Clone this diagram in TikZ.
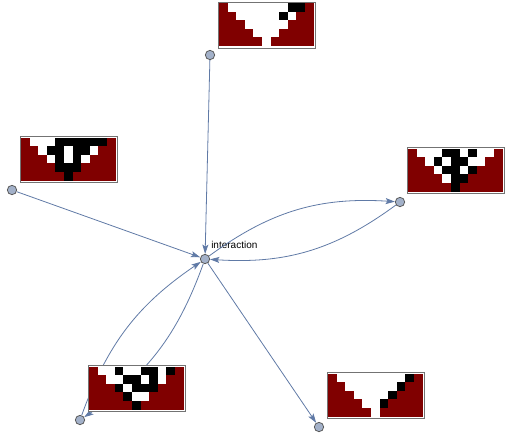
\documentclass[tikz,border=0pt]{standalone}
\usepackage{fontspec}
\setmainfont{Liberation Sans}
\usetikzlibrary{arrows.meta}

\definecolor{pix0}{RGB}{128,0,0}
\definecolor{pix1}{RGB}{255,255,255}
\definecolor{pix2}{RGB}{0,0,0}
\definecolor{edgeblue}{RGB}{96,122,166}
\definecolor{vtxfill}{RGB}{163,177,201}

% one framed rule picture: name, north west corner, rows of cells (0 red, 1 white, 2 black)
\newcommand{\rulepic}[3]{%
  \node[picframe, anchor=north west] (#1) at #2 {};
  \foreach \cells [count=\j from 0] in {#3} {
    \foreach \v [count=\i from 0] in \cells {
      \fill[pix\v] ([shift={(1.5+\i*8.59,1.5+\j*8.6)}]#1.north west) rectangle ++(8.7,8.7);
    }
  }
}

\begin{document}
\begin{tikzpicture}[
  x=0.75pt, y=-0.75pt,
  vtx/.style={
    circle,
    draw=black!65,
    fill=vtxfill,
    line width=0.6pt,
    minimum size=7pt,
    inner sep=0pt,
  },
  edge/.style={draw=edgeblue, line width=0.6pt, -{Stealth[length=7pt,width=4.5pt,inset=1.5pt]}},
  picframe/.style={
    draw=black!55,
    fill=white,
    line width=0.75pt,
    minimum width=73pt,
    minimum height=34.5pt,
    inner sep=0pt,
  },
  lbl/.style={font=\fontsize{7.5}{9}\selectfont, inner sep=0pt, xshift=1.8pt, yshift=5pt},
]
\useasboundingbox (0,0) rectangle (507,440);

\node[vtx, label={[lbl]above right:interaction}] (mid) at (205,259) {};
\node[vtx] (top) at (210,55) {};
\node[vtx] (left) at (12,190) {};
\node[vtx] (right) at (400,202) {};
\node[vtx] (botleft) at (80,420) {};
\node[vtx] (botright) at (319,427) {};

\draw[edge] (top) -- (mid);
\draw[edge] (left) -- (mid);
\draw[edge] (mid) -- (botright);
\draw[edge] (mid) to[bend left=20] (right);
\draw[edge] (right) to[bend left=20] (mid);
\draw[edge] (botleft) to[bend left=18] (mid);
\draw[edge] (mid) to[bend left=18] (botleft);

\rulepic{toppic}{(217.5,1.5)}{
  {0,1,1,1,1,1,1,1,2,2,0},
  {0,0,1,1,1,1,1,2,1,0,0},
  {0,0,0,1,1,1,1,1,0,0,0},
  {0,0,0,0,1,1,1,0,0,0,0},
  {0,0,0,0,0,1,0,0,0,0,0}}
\rulepic{leftpic}{(19.5,136)}{
  {0,1,1,1,2,2,2,2,2,2,0},
  {0,0,1,2,2,1,2,2,1,0,0},
  {0,0,0,1,2,1,2,1,0,0,0},
  {0,0,0,0,2,2,2,0,0,0,0},
  {0,0,0,0,0,2,0,0,0,0,0}}
\rulepic{rightpic}{(406.5,147)}{
  {0,1,1,1,2,2,1,2,1,1,0},
  {0,0,1,2,1,2,2,1,1,0,0},
  {0,0,0,1,2,2,1,2,0,0,0},
  {0,0,0,0,1,2,2,0,0,0,0},
  {0,0,0,0,0,2,0,0,0,0,0}}
\rulepic{botleftpic}{(87.5,365)}{
  {0,1,1,2,1,1,2,2,1,2,0},
  {0,0,1,1,2,2,1,2,1,0,0},
  {0,0,0,2,1,2,2,2,0,0,0},
  {0,0,0,0,2,1,1,0,0,0,0},
  {0,0,0,0,0,2,0,0,0,0,0}}
\rulepic{botrightpic}{(326.5,372)}{
  {0,1,1,1,1,1,1,1,1,2,0},
  {0,0,1,1,1,1,1,1,2,0,0},
  {0,0,0,1,1,1,1,2,0,0,0},
  {0,0,0,0,1,1,2,0,0,0,0},
  {0,0,0,0,0,1,0,0,0,0,0}}

\end{tikzpicture}
\end{document}
